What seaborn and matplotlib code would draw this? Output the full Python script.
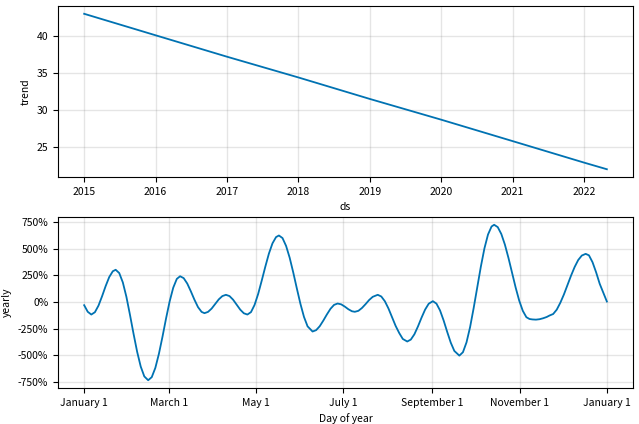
import pandas as pd
import seaborn as sns
import matplotlib.pyplot as plt
import matplotlib.dates as mdates
from matplotlib.ticker import FuncFormatter

# trend component
trend_dates = ['2015-01-01', '2016-01-01', '2017-01-01', '2018-01-01', '2019-01-01',
               '2020-01-01', '2021-01-01', '2022-01-01', '2022-04-28']
trend_values = [43.0, 40.1, 37.2, 34.4, 31.5, 28.7, 25.8, 22.9, 22.0]

# yearly seasonality: day of year -> percent
season_days = [
    0, 2.5, 5, 7.5, 10, 12.5, 15, 17.5, 20, 22,
    24.5, 27, 29.5, 32, 34.5, 37, 39.5, 42, 44.7,
    47.2, 49.7, 52.2, 54.7, 57.2, 59.7, 62.2, 64.7, 67,
    69.5, 72, 74.5, 77, 79.5, 82, 84,
    86.5, 89, 91.5, 94, 96.5, 99,
    101.5, 104, 106.5, 109, 111.5, 114,
    116.5, 119, 121.5, 124, 126.5, 129, 131.5, 134, 136,
    138.5, 141, 143.5, 146, 148.5, 151, 153.5, 156, 159.5,
    162, 164.5, 167, 169.5, 172, 174.5, 177,
    179.5, 182, 184.5, 187, 189,
    191.5, 194, 196.5, 199, 201.5, 205,
    207.5, 210, 212.5, 215, 217.5, 220, 222.5, 225.6,
    228.1, 230.6, 233.1, 235.6, 238.1, 240.6, 243.5,
    246, 248.5, 251, 253.5, 256, 258.5, 262,
    264.5, 267, 269.5, 272, 274.5, 277, 279.5, 282, 284.5, 286.3,
    288.8, 291.3, 293.8, 296.3, 298.8, 301.3, 303.8, 306.3, 308.8, 311,
    313, 315.5, 318, 320.5, 323, 325,
    327.5, 330, 332.5, 335, 337.5, 340, 342.5, 345, 347.5, 350.2,
    352.5, 355, 357.5, 360, 362.5, 365,
]
season_pct = [
    -30, -92, -118, -96, -34, 54, 150, 235, 290, 304,
    273, 185, 49, -121, -300, -469, -608, -701, -737,
    -708, -621, -488, -327, -154, 6, 135, 218, 243,
    225, 174, 101, 22, -48, -93, -105,
    -93, -62, -19, 25, 56, 68,
    56, 22, -25, -72, -106, -118,
    -95, -27, 76, 202, 333, 456, 553, 612, 627,
    603, 529, 418, 279, 129, -16, -140, -229, -278,
    -265, -228, -175, -117, -64, -27, -14,
    -22, -43, -68, -87, -92,
    -83, -56, -20, 19, 49, 68,
    52, 7, -61, -142, -225, -292, -348, -372,
    -354, -304, -230, -147, -71, -16, 8,
    -15, -79, -173, -281, -383, -461, -505,
    -473, -380, -236, -56, 139, 333, 505, 636, 712, 728,
    706, 641, 541, 415, 275, 137, 13, -83, -143, -160,
    -164, -166, -162, -153, -141, -127,
    -113, -72, -7, 71, 160, 249, 330, 396, 438, 454,
    440, 375, 280, 172, 88, 5,
]

plt.rcParams['font.family'] = ['Noto Sans CJK JP', 'DejaVu Sans']
plt.rcParams['font.size'] = 7.5

trend = pd.DataFrame({'ds': pd.to_datetime(trend_dates), 'trend': trend_values})
yearly = pd.DataFrame({
    'ds': pd.Timestamp('2017-01-01') + pd.to_timedelta(season_days, unit='D'),
    'yearly': [v / 100 for v in season_pct],
})

fig = plt.figure(figsize=(6.39, 4.24), dpi=100)
ax1 = fig.add_axes([0.0908, 0.5825, 0.8998, 0.4033])
ax2 = fig.add_axes([0.0908, 0.0849, 0.8998, 0.4033])

line_color = '#0072B2'

# top: trend
sns.lineplot(data=trend, x='ds', y='trend', ax=ax1, color=line_color, linewidth=1.3)
ax1.xaxis.set_major_locator(mdates.YearLocator())
ax1.xaxis.set_major_formatter(mdates.DateFormatter('%Y'))
ax1.set_xlabel('ds')
ax1.set_ylabel('trend')

# bottom: yearly seasonality
sns.lineplot(data=yearly, x='ds', y='yearly', ax=ax2, color=line_color, linewidth=1.3)
ax2.xaxis.set_major_locator(mdates.MonthLocator(bymonth=range(1, 13), bymonthday=1, interval=2))
ax2.xaxis.set_major_formatter(FuncFormatter(lambda x, pos=None: '{dt:%B} {dt.day}'.format(dt=mdates.num2date(x))))
ax2.yaxis.set_major_formatter(FuncFormatter(lambda y, pos=None: '{:.0%}'.format(y)))
ax2.set_xlabel('Day of year')
ax2.set_ylabel('yearly')

for ax in (ax1, ax2):
    ax.grid(True, which='major', color='gray', linestyle='-', linewidth=1, alpha=0.2)
    ax.tick_params(labelsize=7.5)

fig.savefig('out.png', dpi=100)
